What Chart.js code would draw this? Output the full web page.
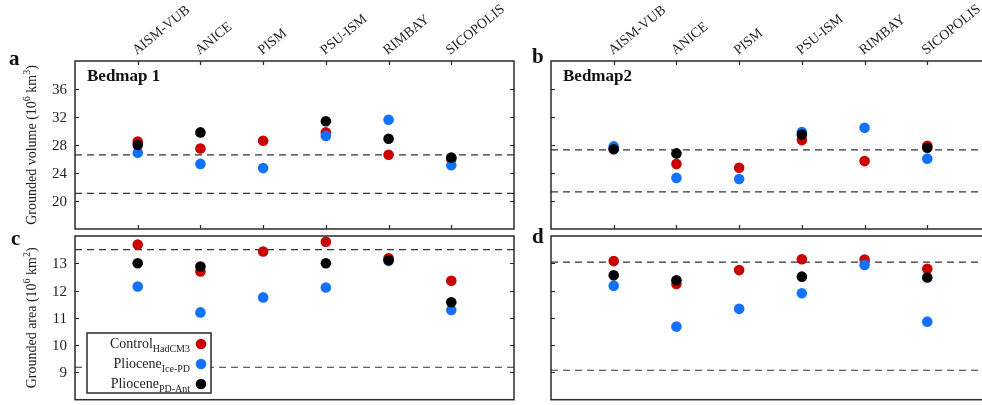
<!DOCTYPE html>
<html><head><meta charset="utf-8">
<script src="https://cdn.jsdelivr.net/npm/chart.js@4"></script>
<style>
html,body{margin:0;padding:0;background:#fff;overflow:hidden;width:982px;height:405px;position:relative;}
canvas{position:absolute;left:0;top:0;}
</style></head><body>
<canvas id="pa" width="1000" height="405"></canvas>
<canvas id="pb" width="1000" height="405"></canvas>
<canvas id="pc" width="1000" height="405"></canvas>
<canvas id="pd" width="1000" height="405"></canvas>
<script>
// ---- data ----
const models = ['AISM-VUB','ANICE','PISM','PSU-ISM','RIMBAY','SICOPOLIS'];
const seriesNames = ['Control', 'Pliocene', 'Pliocene'];
const seriesSubs = ['HadCM3', 'Ice-PD', 'PD-Ant'];

// Panel a: grounded volume, Bedmap 1
const volB1Control = [28.5, 27.5, 28.6, 29.8, 26.6, 26.0];
const volB1IcePD   = [26.9, 25.3, 24.7, 29.3, 31.6, 25.1];
const volB1PDAnt   = [28.0, 29.8, null, 31.4, 28.9, 26.2];
const volB1Refs    = [26.6, 21.1];
// Panel b: grounded volume, Bedmap2
const volB2Control = [27.45, 25.3, 24.75, 28.7, 25.7, 27.9];
const volB2IcePD   = [27.8, 23.3, 23.15, 29.85, 30.45, 26.05];
const volB2PDAnt   = [27.4, 26.8, null, 29.5, null, 27.6];
const volB2Refs    = [27.3, 21.3];
// Panel c: grounded area, Bedmap 1
const areaB1Control = [13.69, 12.70, 13.43, 13.79, 13.18, 12.36];
const areaB1IcePD   = [12.15, 11.20, 11.75, 12.11, 13.09, 11.29];
const areaB1PDAnt   = [13.0, 12.88, null, 13.0, 13.11, 11.57];
const areaB1Refs    = [13.5, 9.19];
// Panel d: grounded area, Bedmap2
const areaB2Control = [13.08, 12.24, 12.75, 13.15, 13.14, 12.80];
const areaB2IcePD   = [12.18, 10.68, 11.33, 11.90, 12.94, 10.86];
const areaB2PDAnt   = [12.56, 12.38, null, 12.51, null, 12.48];
const areaB2Refs    = [13.04, 9.08];

const volTicks = [20, 24, 28, 32, 36];
const areaTicks = [9, 10, 11, 12, 13];

// ---- styling ----
const COL = {red:'#c80000', blue:'#1272ff', black:'#000000', frame:'#2a2a2a', text:'#222222'};
const SERIF = '"Liberation Serif", "DejaVu Serif", serif';

function pts(arr){ return arr.map((v,i)=> v==null ? null : {x:i+1, y:v}).filter(p=>p); }
function refLine(v){ return [{x:0,y:v},{x:models.length+1,y:v}]; }

function richWidth(ctx, parts, main, small){
  let w = 0;
  for (const [t, m] of parts){ ctx.font = m ? small : main; w += ctx.measureText(t).width; }
  return w;
}
function drawRich(ctx, parts, x, y, main, small, supOff, subOff){
  let cx = x;
  for (const [t, m] of parts){
    ctx.font = m ? small : main;
    const dy = m === 'sup' ? -supOff : (m === 'sub' ? subOff : 0);
    ctx.fillText(t, cx, y + dy);
    cx += ctx.measureText(t).width;
  }
}

function decor(cfg){
  return {
    id: 'decor_' + cfg.id,
    afterDraw(chart){
      const ctx = chart.ctx, a = chart.chartArea;
      const xs = chart.scales.x, ys = chart.scales.y;
      ctx.save();
      // frame
      ctx.strokeStyle = COL.frame; ctx.lineWidth = 1.5;
      ctx.strokeRect(a.left, a.top, a.right - a.left, a.bottom - a.top);
      // inward ticks
      ctx.lineWidth = 1.2;
      ctx.beginPath();
      for (const v of cfg.yTicks){
        const py = Math.round(ys.getPixelForValue(v)) + 0.5;
        ctx.moveTo(a.left, py); ctx.lineTo(a.left + 4, py);
        ctx.moveTo(a.right, py); ctx.lineTo(a.right - 4, py);
      }
      if (cfg.xTicks){
        models.forEach((m, i) => {
          const px = Math.round(xs.getPixelForValue(i+1)) + 0.5;
          ctx.moveTo(px, a.top); ctx.lineTo(px, a.top + 4);
          ctx.moveTo(px, a.bottom); ctx.lineTo(px, a.bottom - 4);
        });
      }
      ctx.stroke();
      ctx.fillStyle = COL.text;
      // y tick labels
      if (cfg.yLabels){
        ctx.font = '15px ' + SERIF; ctx.textAlign = 'right'; ctx.textBaseline = 'middle';
        for (const v of cfg.yTicks){
          ctx.fillText(String(v), a.left - 8, ys.getPixelForValue(v) + 1);
        }
      }
      // y title
      if (cfg.yTitle){
        ctx.save();
        const cy = (a.top + a.bottom) / 2;
        ctx.translate(36, cy); ctx.rotate(-Math.PI/2);
        ctx.textAlign = 'left'; ctx.textBaseline = 'alphabetic';
        const main = '14px ' + SERIF, small = '10px ' + SERIF;
        const w = richWidth(ctx, cfg.yTitle, main, small);
        drawRich(ctx, cfg.yTitle, -w/2, 0, main, small, 6, 3);
        ctx.restore();
      }
      // panel letter
      ctx.font = 'bold 21px ' + SERIF; ctx.textAlign = 'left'; ctx.textBaseline = 'alphabetic';
      ctx.fillStyle = '#111';
      ctx.fillText(cfg.letter, cfg.letterPos[0], cfg.letterPos[1]);
      // bedmap label
      if (cfg.bedmap){
        ctx.font = 'bold 17px ' + SERIF;
        ctx.fillText(cfg.bedmap, a.left + 12, a.top + 20);
      }
      // top category labels
      if (cfg.topLabels){
        ctx.font = '14px ' + SERIF; ctx.fillStyle = COL.text;
        models.forEach((m, i) => {
          const px = xs.getPixelForValue(i+1);
          ctx.save();
          ctx.translate(px - 1, a.top - 6);
          ctx.rotate(-39 * Math.PI / 180);
          ctx.textAlign = 'left'; ctx.textBaseline = 'alphabetic';
          ctx.fillText(m, 0, 0);
          ctx.restore();
        });
      }
      // legend
      if (cfg.legend){
        const L = {x: 87, y: 333, w: 124, h: 60};
        ctx.fillStyle = '#fff';
        ctx.fillRect(L.x, L.y, L.w, L.h);
        ctx.strokeStyle = COL.frame; ctx.lineWidth = 1.5;
        ctx.strokeRect(L.x, L.y, L.w, L.h);
        const cols = [COL.red, COL.blue, COL.black];
        const main = '14px ' + SERIF, small = '10px ' + SERIF;
        seriesNames.forEach((n, k) => {
          const cy = L.y + 11 + k * 20;
          const parts = [[n, ''], [seriesSubs[k], 'sub']];
          ctx.fillStyle = COL.text; ctx.textAlign = 'left'; ctx.textBaseline = 'alphabetic';
          const w = richWidth(ctx, parts, main, small);
          drawRich(ctx, parts, L.x + 103 - w, cy + 4, main, small, 0, 4);
          ctx.fillStyle = cols[k];
          ctx.beginPath(); ctx.arc(L.x + 114, cy, 5.3, 0, Math.PI*2); ctx.fill();
        });
      }
      ctx.restore();
    }
  };
}

function makePanel(cfg){
  const dot = (data, color, order, label) => ({label, data: pts(data), backgroundColor: color, borderColor: color,
      borderWidth: 0, pointRadius: 5.3, pointHoverRadius: 5.3, order});
  const datasets = [
    dot(cfg.pdAnt, COL.black, 1, 'PD-Ant'),
    dot(cfg.icePD, COL.blue, 2, 'Ice-PD'),
    dot(cfg.control, COL.red, 3, 'HadCM3'),
    ...cfg.refs.map(v => ({type:'line', data: refLine(v), borderColor:'#333', borderWidth:1.2,
        borderDash:[7,5], pointRadius:0, fill:false, order:4}))
  ];
  const A = cfg.area;
  new Chart(document.getElementById(cfg.id), {
    type: 'scatter',
    data: {datasets},
    options: {
      responsive: false, animation: false, events: [],
      layout: {padding: {left: A[0], top: A[1], right: 1000 - A[2], bottom: 405 - A[3]}},
      scales: {
        x: {type:'linear', min:0, max:models.length+1, display:false},
        y: {type:'linear', min:cfg.yMin, max:cfg.yMax, display:false}
      },
      plugins: {legend:{display:false}, tooltip:{enabled:false}}
    },
    plugins: [decor(cfg)]
  });
}

const volTitle = [['Grounded volume (10',''],['6','sup'],[' km',''],['3','sup'],[')','']];
const areaTitle = [['Grounded area (10',''],['6','sup'],[' km',''],['2','sup'],[')','']];

makePanel({id:'pa', area:[75,61,514,229], yMin:16, yMax:40, yTicks:volTicks, yLabels:true, yTitle:volTitle,
  letter:'a', letterPos:[9,65], bedmap:'Bedmap 1', topLabels:true, xTicks:true, legend:false,
  control:volB1Control, icePD:volB1IcePD, pdAnt:volB1PDAnt, refs:volB1Refs});
makePanel({id:'pb', area:[551,61,990,229], yMin:16, yMax:40, yTicks:volTicks, yLabels:false, yTitle:null,
  letter:'b', letterPos:[532,63], bedmap:'Bedmap2', topLabels:true, xTicks:true, legend:false,
  control:volB2Control, icePD:volB2IcePD, pdAnt:volB2PDAnt, refs:volB2Refs});
makePanel({id:'pc', area:[75,236,514,403], yMin:8, yMax:14, yTicks:areaTicks, yLabels:true, yTitle:areaTitle,
  letter:'c', letterPos:[11,245], bedmap:null, topLabels:false, xTicks:false, legend:true,
  control:areaB1Control, icePD:areaB1IcePD, pdAnt:areaB1PDAnt, refs:areaB1Refs});
makePanel({id:'pd', area:[551,236,990,403], yMin:8, yMax:14, yTicks:areaTicks, yLabels:false, yTitle:null,
  letter:'d', letterPos:[532,243], bedmap:null, topLabels:false, xTicks:false, legend:false,
  control:areaB2Control, icePD:areaB2IcePD, pdAnt:areaB2PDAnt, refs:areaB2Refs});
</script>
</body></html>
